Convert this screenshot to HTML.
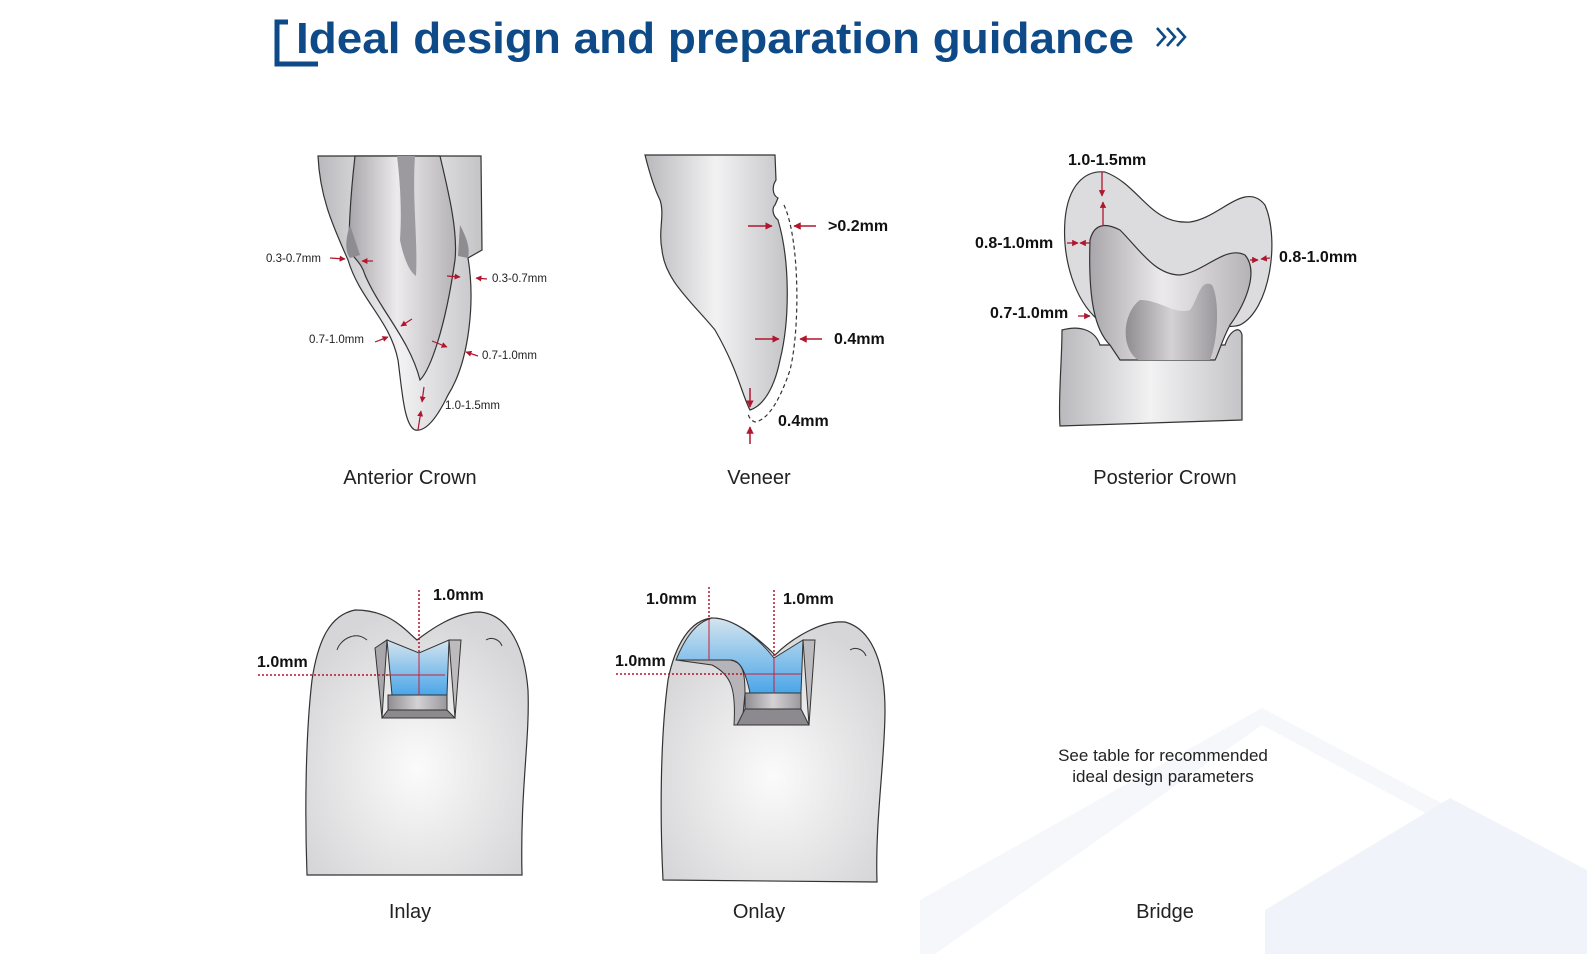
<!DOCTYPE html>
<html><head><meta charset="utf-8"><style>
html,body{margin:0;padding:0;background:#fff;}
body{width:1587px;height:954px;overflow:hidden;position:relative;font-family:"Liberation Sans",sans-serif;}
svg{position:absolute;left:0;top:0;}
</style></head><body>
<svg width="1587" height="954" viewBox="0 0 1587 954" xmlns="http://www.w3.org/2000/svg">
<defs>
<linearGradient id="g1" x1="0" x2="1" y1="0" y2="0"><stop offset="0" stop-color="#b9b9bd"/><stop offset="0.5" stop-color="#f2f2f3"/><stop offset="1" stop-color="#c4c4c7"/></linearGradient>
<linearGradient id="g2" x1="0" x2="1"><stop offset="0" stop-color="#a9a6ab"/><stop offset="0.45" stop-color="#eceaec"/><stop offset="1" stop-color="#b5b3b6"/></linearGradient>
<radialGradient id="rt" cx="0.5" cy="0.6" r="0.6"><stop offset="0" stop-color="#fbfbfb"/><stop offset="1" stop-color="#d6d6d8"/></radialGradient>
<linearGradient id="bl" x1="0" y1="0" x2="0" y2="1"><stop offset="0" stop-color="#d4e4ee"/><stop offset="1" stop-color="#4aa6e8"/></linearGradient>
<linearGradient id="dk" x1="0" x2="1"><stop offset="0" stop-color="#908d92"/><stop offset="0.5" stop-color="#d4d2d4"/><stop offset="1" stop-color="#9a989c"/></linearGradient>
<marker id="ar" viewBox="0 0 10 10" refX="9" refY="5" markerWidth="5" markerHeight="5" orient="auto"><path d="M0,0L10,5L0,10z" fill="#b0162e"/></marker>
</defs>
<!-- background decor -->
<polygon points="920,954 920,900 1262,708 1587,880 1587,954" fill="#f5f7fb"/>
<polygon points="935,954 1262,725 1587,900 1587,954" fill="#fff"/>
<polygon points="1265,954 1265,910 1450,798 1587,870 1587,954" fill="#f0f3fa"/>
<!-- title -->
<path d="M288,22 L277,22 L277,64 L318,64" fill="none" stroke="#0d4a87" stroke-width="5"/>
<text x="296" y="53" font-family="Liberation Sans,sans-serif" font-weight="bold" font-size="44" fill="#0d4a87" textLength="838" lengthAdjust="spacingAndGlyphs">Ideal design and preparation guidance</text>
<g fill="none" stroke="#0d4a87" stroke-width="2.6">
<polyline points="1157,28 1165,37 1157,46"/><polyline points="1167,28 1175,37 1167,46"/><polyline points="1177,28 1185,37 1177,46"/></g>

<!-- Anterior crown -->
<path d="M318,156 L481,156 L482,250 L468,258 C475,300 470,360 448,395 C436,420 425,432 415,430 C404,425 402,390 398,360 C390,320 360,300 348,260 C335,230 320,200 318,156Z" fill="url(#g1)" stroke="#333" stroke-width="1.2"/>
<path d="M355,156 C350,200 348,240 350,252 C358,262 362,265 365,275 C380,310 410,340 420,380 C430,370 445,330 455,260 C458,230 448,190 440,156Z" fill="url(#g2)" stroke="#333" stroke-width="1.2"/>
<path d="M397,156 L415,156 C412,200 418,240 416,276 C410,272 404,260 400,240 C402,210 400,180 397,156Z" fill="#9c9a9e"/>
<path d="M350,225 C345,240 345,252 350,258 L360,255 Z" fill="#8e8c90"/>
<path d="M460,225 C468,240 470,250 468,258 L458,256Z" fill="#8e8c90"/>
<g stroke="#b0162e" stroke-width="1.2" marker-end="url(#ar)" fill="none">
<line x1="330" y1="258" x2="345" y2="259"/><line x1="373" y1="261" x2="362" y2="261"/>
<line x1="447" y1="276" x2="460" y2="277"/><line x1="487" y1="279" x2="476" y2="278"/>
<line x1="375" y1="342" x2="388" y2="337"/><line x1="412" y1="319" x2="401" y2="326"/>
<line x1="432" y1="341" x2="447" y2="347"/><line x1="478" y1="356" x2="466" y2="352"/>
<line x1="424" y1="387" x2="422" y2="402"/><line x1="418" y1="430" x2="421" y2="411"/>
</g>
<g font-size="11.5" fill="#222">
<text x="266" y="262">0.3-0.7mm</text><text x="492" y="282">0.3-0.7mm</text>
<text x="309" y="343">0.7-1.0mm</text><text x="482" y="359">0.7-1.0mm</text>
<text x="445" y="409">1.0-1.5mm</text></g>
<text x="410" y="484" font-size="20" text-anchor="middle" fill="#222">Anterior Crown</text>

<!-- Veneer -->
<path d="M645,155 L775,155 L776,180 C772,186 772,195 778,198 L775,205 C772,208 772,215 778,220 C790,260 790,320 780,360 C775,385 765,405 750,410 C742,395 738,370 715,330 C690,300 665,280 662,250 C658,230 665,215 660,200 C655,190 650,175 645,155Z" fill="url(#g1)" stroke="#333" stroke-width="1.2"/>
<path d="M784,205 C800,240 800,330 790,370 C780,400 768,420 755,422 C750,420 748,416 748,412" fill="none" stroke="#333" stroke-width="1.2" stroke-dasharray="4,3"/>
<g stroke="#b0162e" stroke-width="1.5" marker-end="url(#ar)">
<line x1="748" y1="226" x2="772" y2="226"/><line x1="816" y1="226" x2="794" y2="226"/>
<line x1="755" y1="339" x2="779" y2="339"/><line x1="822" y1="339" x2="800" y2="339"/>
<line x1="750" y1="388" x2="750" y2="407"/><line x1="750" y1="444" x2="750" y2="427"/>
</g>
<g font-size="16" fill="#111" font-weight="bold"><text x="828" y="231">&gt;0.2mm</text><text x="834" y="344">0.4mm</text><text x="778" y="426">0.4mm</text></g>
<text x="759" y="484" font-size="20" text-anchor="middle" fill="#222">Veneer</text>

<!-- Posterior crown -->
<path d="M1062,330 C1080,325 1095,330 1100,345 L1225,345 C1230,330 1240,325 1242,335 L1242,420 L1060,426 C1058,400 1062,360 1062,330Z" fill="url(#g1)" stroke="#333" stroke-width="1.2"/>
<path d="M1098,320 C1075,300 1062,260 1065,220 C1068,185 1085,170 1105,172 C1140,185 1150,225 1190,222 C1220,218 1245,180 1265,205 C1280,240 1270,310 1240,325 C1225,330 1215,320 1210,325 Z" fill="#dcdcde" stroke="#333" stroke-width="1.2"/>
<path d="M1110,345 C1095,330 1088,300 1090,240 C1095,220 1110,225 1120,230 C1140,250 1155,275 1180,275 C1205,272 1225,245 1245,255 C1258,270 1248,300 1230,325 C1222,340 1218,355 1215,360 L1120,360Z" fill="url(#g2)" stroke="#333" stroke-width="1.2"/>
<path d="M1140,300 C1125,310 1118,345 1138,360 L1210,360 C1218,340 1220,300 1212,285 C1200,278 1198,300 1190,310 C1175,315 1160,300 1140,300Z" fill="url(#dk)"/>
<g stroke="#b0162e" stroke-width="1.3" marker-end="url(#ar)">
<line x1="1102" y1="172" x2="1102" y2="196"/><line x1="1103" y1="226" x2="1103" y2="202"/>
<line x1="1067" y1="243" x2="1078" y2="243"/><line x1="1090" y1="243" x2="1080" y2="243"/>
<line x1="1250" y1="260" x2="1258" y2="260"/><line x1="1270" y1="258" x2="1261" y2="259"/>
<line x1="1078" y1="316" x2="1090" y2="316"/>
</g>
<g font-size="16" fill="#111" font-weight="bold">
<text x="1068" y="165">1.0-1.5mm</text><text x="975" y="248">0.8-1.0mm</text>
<text x="1279" y="262">0.8-1.0mm</text><text x="990" y="318">0.7-1.0mm</text></g>
<text x="1165" y="484" font-size="20" text-anchor="middle" fill="#222">Posterior Crown</text>

<!-- Inlay -->
<path d="M307,875 C305,820 305,740 312,680 C318,640 330,615 355,610 C390,610 405,630 417,640 C430,630 455,612 480,612 C510,615 525,650 528,690 C530,740 520,790 522,875Z" fill="url(#rt)" stroke="#333" stroke-width="1.2"/>
<path d="M367,640 C355,630 340,640 337,650" fill="none" stroke="#333"/>
<path d="M486,640 C492,636 500,640 502,646" fill="none" stroke="#333"/>
<path d="M375,648 L387,640 L382,718 Z" fill="#a9a7ab" stroke="#333"/>
<path d="M461,640 L449,640 L455,718 Z" fill="#bdbbbe" stroke="#333"/>
<path d="M387,640 L419,653 L449,640 L447,695 L392,695Z" fill="url(#bl)" stroke="#333"/>
<rect x="388" y="695" width="59" height="15" fill="url(#dk)" stroke="#333"/>
<path d="M388,710 L447,710 L455,718 L382,718Z" fill="#8c8a8e" stroke="#333"/>
<line x1="419" y1="590" x2="419" y2="653" stroke="#b0162e" stroke-width="1.5" stroke-dasharray="2,2"/>
<line x1="419" y1="653" x2="419" y2="695" stroke="#c8203a" stroke-width="1"/>
<line x1="258" y1="675" x2="388" y2="675" stroke="#b0162e" stroke-width="1.5" stroke-dasharray="2,2"/>
<line x1="388" y1="675" x2="445" y2="675" stroke="#c8203a" stroke-width="1"/>
<g font-size="16" fill="#111" font-weight="bold"><text x="433" y="600">1.0mm</text><text x="257" y="667">1.0mm</text></g>
<text x="410" y="918" font-size="20" text-anchor="middle" fill="#222">Inlay</text>

<!-- Onlay -->
<path d="M663,880 C660,820 660,740 668,680 C675,645 690,620 712,618 C735,618 760,640 775,655 C790,640 820,620 845,622 C875,630 885,670 885,710 C885,760 875,820 877,882Z" fill="url(#rt)" stroke="#333" stroke-width="1.2"/>
<path d="M850,650 C856,646 864,650 866,656" fill="none" stroke="#333"/>
<path d="M676,660 C690,625 705,620 712,618 C735,618 760,640 774,658 L803,640 L801,693 L750,693 C745,670 740,660 730,660Z" fill="url(#bl)" stroke="#333"/>
<path d="M676,660 L730,660 C742,662 745,670 745,693 L742,725 L734,725 C736,690 732,675 712,665 L676,660Z" fill="#b6b4b8" stroke="#333"/>
<path d="M803,640 L815,640 L809,725 Z" fill="#bdbbbe" stroke="#333"/>
<rect x="745" y="693" width="56" height="16" fill="url(#dk)" stroke="#333"/>
<path d="M745,709 L801,709 L809,725 L737,725Z" fill="#8c8a8e" stroke="#333"/>
<line x1="709" y1="587" x2="709" y2="620" stroke="#b0162e" stroke-width="1.5" stroke-dasharray="2,2"/>
<line x1="709" y1="620" x2="709" y2="660" stroke="#c8203a" stroke-width="1"/>
<line x1="774" y1="590" x2="774" y2="658" stroke="#b0162e" stroke-width="1.5" stroke-dasharray="2,2"/>
<line x1="774" y1="658" x2="774" y2="693" stroke="#c8203a" stroke-width="1"/>
<line x1="616" y1="674" x2="745" y2="674" stroke="#b0162e" stroke-width="1.5" stroke-dasharray="2,2"/>
<line x1="745" y1="674" x2="801" y2="674" stroke="#c8203a" stroke-width="1"/>
<g font-size="16" fill="#111" font-weight="bold"><text x="646" y="604">1.0mm</text><text x="783" y="604">1.0mm</text><text x="615" y="666">1.0mm</text></g>
<text x="759" y="918" font-size="20" text-anchor="middle" fill="#222">Onlay</text>

<!-- Bridge -->
<text x="1163" y="761" font-size="17" text-anchor="middle" fill="#222">See table for recommended</text>
<text x="1163" y="782" font-size="17" text-anchor="middle" fill="#222">ideal design parameters</text>
<text x="1165" y="918" font-size="20" text-anchor="middle" fill="#222">Bridge</text>
</svg>
</body></html>
